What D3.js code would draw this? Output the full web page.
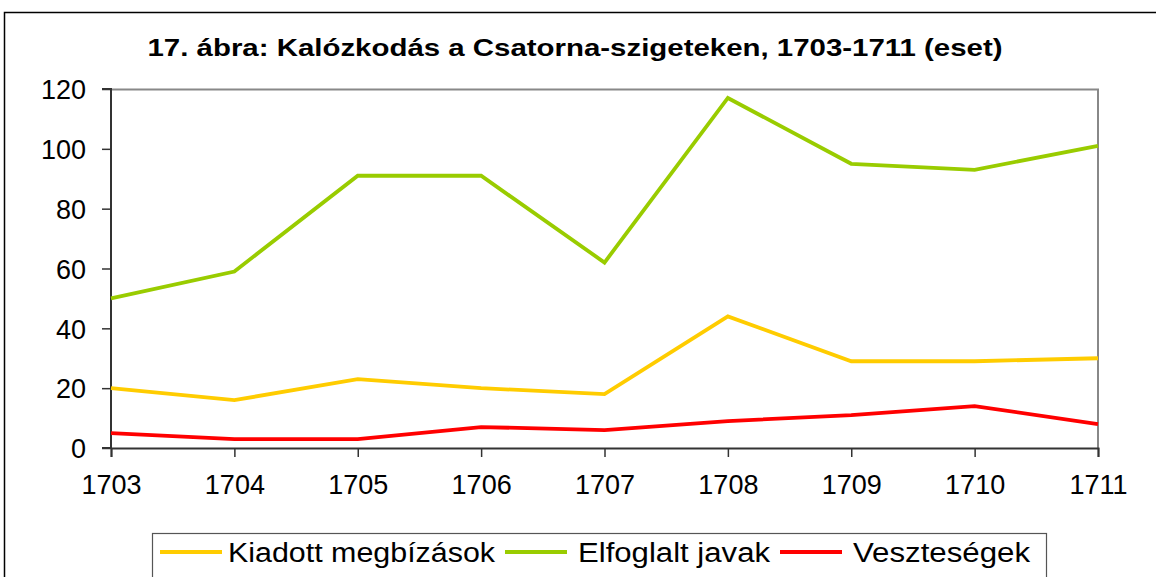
<!DOCTYPE html>
<html>
<head>
<meta charset="utf-8">
<script src="https://cdn.jsdelivr.net/npm/d3@7"></script>
<style>
  body { margin: 0; background: #fff; }
  svg text { font-family: "Liberation Sans", Arial, sans-serif; fill: #000; }
</style>
</head>
<body>
<script>
// chart data
var years = [1703, 1704, 1705, 1706, 1707, 1708, 1709, 1710, 1711];
var kiadott = [20, 16, 23, 20, 18, 44, 29, 29, 30];
var elfoglalt = [50, 59, 91, 91, 62, 117, 95, 93, 101];
var veszteseg = [5, 3, 3, 7, 6, 9, 11, 14, 8];
var yTicks = [0, 20, 40, 60, 80, 100, 120];
var seriesNames = ["Kiadott megbízások", "Elfoglalt javak", "Veszteségek"];
var seriesColors = ["#ffcc00", "#99cc00", "#ff0000"];
var title = "17. ábra: Kalózkodás a Csatorna-szigeteken, 1703-1711 (eset)";

var svgWidth = 1156, svgHeight = 577;
var margin = { top: 89, left: 111, right: 58, bottom: 129 };
var chartWidth = svgWidth - margin.left - margin.right;
var chartHeight = svgHeight - margin.top - margin.bottom;

var svg = d3.select("body").append("svg")
  .attr("width", svgWidth)
  .attr("height", svgHeight);

// outer frame
svg.append("rect")
  .attr("x", 4.5).attr("y", 12.5)
  .attr("width", svgWidth + 10).attr("height", svgHeight + 10)
  .attr("fill", "none")
  .attr("stroke", "#000")
  .attr("stroke-width", 1.5);

svg.append("text")
  .attr("x", 575)
  .attr("y", 56)
  .attr("text-anchor", "middle")
  .attr("font-size", "24px")
  .attr("font-weight", "bold")
  .attr("textLength", 855)
  .attr("lengthAdjust", "spacingAndGlyphs")
  .text(title);

var chartGroup = svg.append("g")
  .attr("transform", `translate(${margin.left}, ${margin.top})`);

var xScale = d3.scalePoint()
  .domain(years)
  .range([0, chartWidth]);

var yScale = d3.scaleLinear()
  .domain([0, 120])
  .range([chartHeight, 0]);

// top and right border of plot area
chartGroup.append("path")
  .attr("d", `M0,0.5H${chartWidth}V${chartHeight}`)
  .attr("fill", "none")
  .attr("stroke", "#888")
  .attr("stroke-width", 2);

var yAxis = d3.axisLeft(yScale).tickValues(yTicks).tickSize(9).tickPadding(16);
var xAxis = d3.axisBottom(xScale).tickSize(9).tickPadding(18);

var gy = chartGroup.append("g").call(yAxis);
var gx = chartGroup.append("g")
  .attr("transform", `translate(0,${chartHeight})`)
  .call(xAxis);

[gy, gx].forEach(function(g) {
  g.select(".domain").attr("stroke", "#333").attr("stroke-width", 2);
  g.selectAll(".tick line").attr("stroke", "#333").attr("stroke-width", 1.5);
  g.selectAll(".tick text")
    .attr("font-size", "27px")
    .attr("fill", "#000")
    .style("font-family", "Liberation Sans, Arial, sans-serif");
});
gy.select(".domain").attr("d", `M-9,${chartHeight}H0V0H-9`);
gy.selectAll(".tick text").attr("dy", "0.36em");

var allSeries = [kiadott, elfoglalt, veszteseg];
var line = d3.line()
  .x(function(d, i) { return xScale(years[i]); })
  .y(function(d) { return yScale(d); });

allSeries.forEach(function(s, k) {
  chartGroup.append("path")
    .datum(s)
    .attr("d", line)
    .attr("fill", "none")
    .attr("stroke", seriesColors[k])
    .attr("stroke-width", 3.8)
    .attr("stroke-linejoin", "miter");
});

// legend
var legend = svg.append("g");
legend.append("rect")
  .attr("x", 152.5).attr("y", 533.5)
  .attr("width", 894).attr("height", 60)
  .attr("fill", "#fff")
  .attr("stroke", "#555")
  .attr("stroke-width", 1.2);

var legendItems = [
  { lx: 160, tx: 228, tw: 267 },
  { lx: 505, tx: 578, tw: 192 },
  { lx: 780, tx: 853, tw: 177 }
];
legendItems.forEach(function(it, k) {
  legend.append("line")
    .attr("x1", it.lx).attr("x2", it.lx + 62)
    .attr("y1", 552).attr("y2", 552)
    .attr("stroke", seriesColors[k])
    .attr("stroke-width", 3.8);
  legend.append("text")
    .attr("x", it.tx)
    .attr("y", 562)
    .attr("font-size", "27px")
    .attr("textLength", it.tw)
    .attr("lengthAdjust", "spacingAndGlyphs")
    .text(seriesNames[k]);
});
</script>
</body>
</html>
